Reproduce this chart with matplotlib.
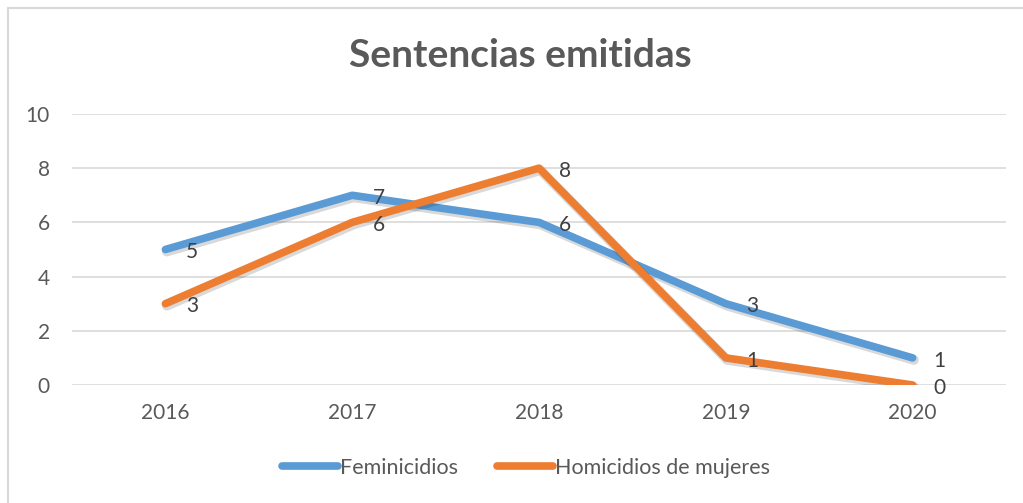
import matplotlib.pyplot as plt
import matplotlib.patheffects as pe
from matplotlib.lines import Line2D

plt.rcParams['font.family'] = ['Lato', 'DejaVu Sans']

years = ['2016', '2017', '2018', '2019', '2020']
feminicidios = [5, 7, 6, 3, 1]
homicidios = [3, 6, 8, 1, 0]

blue = '#5B9BD5'
orange = '#ED7D31'
gray = '#595959'

fig = plt.figure(figsize=(10.23, 5.03), dpi=100)
ax = fig.add_axes([0.0704, 0.2346, 0.913, 0.5388])

# chart border (left and top visible)
fig.add_artist(Line2D([0.008, 0.008], [0.0, 0.984], color='#d9d9d9', lw=1.5))
fig.add_artist(Line2D([0.008, 1.0], [0.984, 0.984], color='#d9d9d9', lw=1.5))

shadow = [pe.SimpleLineShadow(offset=(1, -1.5), shadow_color='#000000', alpha=0.15, linewidth=7),
          pe.Normal()]
x = list(range(len(years)))
ax.plot(x, feminicidios, color=blue, lw=5.5, solid_capstyle='round',
        solid_joinstyle='round', path_effects=shadow, label='Feminicidios', zorder=3)
ax.plot(x, homicidios, color=orange, lw=5.5, solid_capstyle='round',
        solid_joinstyle='round', path_effects=shadow, label='Homicidios de mujeres', zorder=4)

for xi, v in zip(x, feminicidios):
    ax.annotate(str(v), (xi, v), xytext=(19, -2), textcoords='offset points',
                ha='center', va='center', fontsize=15, color='#404040', zorder=5)
for xi, v in zip(x, homicidios):
    ax.annotate(str(v), (xi, v), xytext=(19, -2), textcoords='offset points',
                ha='center', va='center', fontsize=15, color='#404040', zorder=5)

ax.set_xlim(-0.5, 4.5)
ax.set_ylim(0, 10)
ax.set_yticks(range(0, 11, 2))
ax.set_xticks(x)
ax.set_xticklabels(years)
ax.grid(axis='y', color='#d9d9d9', lw=1.2)
ax.set_axisbelow(True)
for s in ax.spines.values():
    s.set_visible(False)
ax.tick_params(length=0, labelsize=15, labelcolor=gray)
ax.tick_params(axis='y', pad=16)
ax.tick_params(axis='x', pad=13)

fig.text(0.509, 0.89, 'Sentencias emitidas', ha='center', va='center',
         fontsize=28, fontweight='bold', color=gray)

leg = fig.legend(loc='center', bbox_to_anchor=(0.514, 0.07), ncol=2, frameon=False,
                 fontsize=15.5, handlelength=2.6, handletextpad=0.1, columnspacing=1.8)
for t in leg.get_texts():
    t.set_color(gray)
for h in leg.get_lines():
    h.set_path_effects([])

fig.savefig('out.png', dpi=100)
